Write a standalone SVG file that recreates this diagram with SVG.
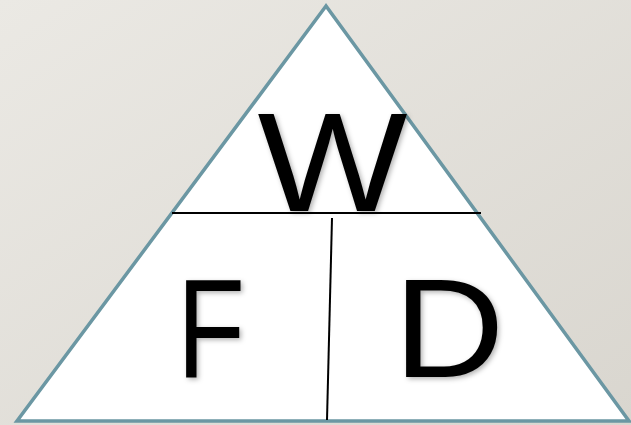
<svg xmlns="http://www.w3.org/2000/svg" width="631" height="425" viewBox="0 0 631 425">
<defs>
<linearGradient id="bg" x1="0" y1="0" x2="1" y2="1">
<stop offset="0" stop-color="#ebe9e4"/>
<stop offset="1" stop-color="#d9d6cf"/>
</linearGradient>
<filter id="sh" x="-20%" y="-20%" width="140%" height="140%">
<feDropShadow dx="2" dy="2" stdDeviation="2.5" flood-color="#000" flood-opacity="0.3"/>
</filter>
</defs>
<style>
.lbl{font-family:"Liberation Sans",Arial,sans-serif;font-size:141px;fill:#000;text-anchor:middle}
.ln{stroke:#000;stroke-width:2;fill:none}
</style>
<rect width="631" height="425" fill="url(#bg)"/>
<g id="triangle">
<polygon points="326,6 17,421 629,421" fill="#fff" stroke="#6b97a3" stroke-width="3.5" stroke-linejoin="miter"/>
</g>
<g id="connectors">
<line class="ln" x1="172" y1="213" x2="481" y2="213"/>
<line class="ln" x1="332" y1="218" x2="327" y2="420"/>
</g>
<g id="node-W"><text class="lbl" x="332.5" y="211" textLength="150" lengthAdjust="spacingAndGlyphs" filter="url(#sh)">W</text></g>
<g id="node-F"><text class="lbl" x="211" y="377" textLength="68" lengthAdjust="spacingAndGlyphs" filter="url(#sh)">F</text></g>
<g id="node-D"><text class="lbl" x="449" y="377" textLength="111" lengthAdjust="spacingAndGlyphs" filter="url(#sh)">D</text></g>
</svg>
